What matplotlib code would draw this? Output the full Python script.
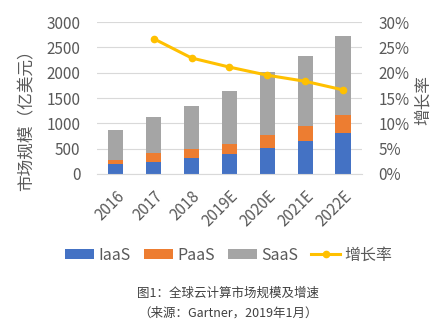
import matplotlib
matplotlib.use("Agg")
import matplotlib.pyplot as plt
from matplotlib.ticker import FuncFormatter, MultipleLocator
import numpy as np

plt.rcParams['font.family'] = ['Noto Sans CJK SC', 'DejaVu Sans']

years = ["2016", "2017", "2018", "2019E", "2020E", "2021E", "2022E"]
iaas = [190, 245, 322, 401, 507, 651, 809]
paas = [92, 163, 171, 198, 256, 303, 349]
saas = [580, 724, 856, 1046, 1244, 1382, 1572]
growth_years = ["2017", "2018", "2019E", "2020E", "2021E", "2022E"]
growth = [26.7, 22.9, 21.1, 19.5, 18.3, 16.6]

c_iaas = "#4472C4"
c_paas = "#ED7D31"
c_saas = "#A5A5A5"
c_line = "#FFC000"
c_text = "#595959"

W, H = 446, 324
fig = plt.figure(figsize=(W / 100, H / 100), dpi=100)
ax = fig.add_axes([0.2175, 0.463, 0.594, 0.469])

x = np.arange(len(years))
w = 0.4
b1 = ax.bar(x, iaas, w, color=c_iaas, label="IaaS", zorder=2)
b2 = ax.bar(x, paas, w, bottom=iaas, color=c_paas, label="PaaS", zorder=2)
bottom2 = np.array(iaas) + np.array(paas)
b3 = ax.bar(x, saas, w, bottom=bottom2, color=c_saas, label="SaaS", zorder=2)

ax.set_xlim(-0.5, len(years) - 0.5)
ax.set_ylim(0, 3000)
ax.yaxis.set_major_locator(MultipleLocator(500))
ax.grid(axis="y", color="#D9D9D9", linewidth=0.8, zorder=0)
ax.set_axisbelow(True)
for s in ["top", "right", "left"]:
    ax.spines[s].set_visible(False)
ax.spines["bottom"].set_color("#D9D9D9")
ax.tick_params(axis="both", length=0, colors=c_text, labelsize=11)
ax.set_xticks(x)
ax.set_xticklabels(years, rotation=45, ha="right", rotation_mode="anchor")
ax.tick_params(axis="x", pad=10)
ax.tick_params(axis="y", pad=12)

ax2 = ax.twinx()
gx = [years.index(y) for y in growth_years]
ln, = ax2.plot(gx, growth, color=c_line, linewidth=2.2, marker="o",
               markersize=4.5, label="增长率", zorder=3)
ax2.set_ylim(0, 30)
ax2.yaxis.set_major_locator(MultipleLocator(5))
ax2.yaxis.set_major_formatter(FuncFormatter(lambda v, p: f"{v:.0f}%"))
for s in ["top", "right", "left", "bottom"]:
    ax2.spines[s].set_visible(False)
ax2.tick_params(axis="y", length=0, colors=c_text, labelsize=11, pad=12)

# axis titles placed in figure pixels
fig.text(27 / W, 1 - 116 / H, "市场规模（亿美元）", rotation=90, ha="center",
         va="center", fontsize=12, color=c_text)
fig.text(423 / W, 1 - 100 / H, "增长率", rotation=90, ha="center",
         va="center", fontsize=12, color=c_text)

fig.legend(handles=[b1, b2, b3, ln], labels=["IaaS", "PaaS", "SaaS", "增长率"],
           loc="center", bbox_to_anchor=(229 / W, 1 - 255 / H), ncol=4,
           frameon=False, fontsize=11.5, handlelength=1.8, handleheight=0.55,
           columnspacing=0.8, handletextpad=0.3, labelcolor=c_text)

fig.text(228 / W, 1 - 293 / H, "图1：全球云计算市场规模及增速", ha="center",
         va="center", fontsize=9, color="#404040")
fig.text(228 / W, 1 - 313 / H, "（来源：Gartner，2019年1月）", ha="center",
         va="center", fontsize=9, color="#404040")

fig.savefig("out.png", dpi=100, facecolor="white")
